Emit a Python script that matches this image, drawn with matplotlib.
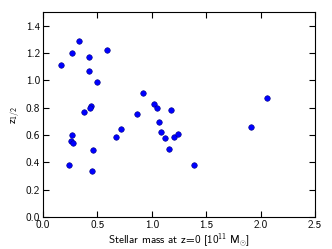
import matplotlib
matplotlib.use("Agg")
import matplotlib.pyplot as plt

# masa estelar a z=0 [1e11 Msun] y z_1/2
masa = [0.17, 0.27, 0.33, 0.42, 0.42, 0.50, 0.59, 0.38, 0.44, 0.43,
        0.27, 0.26, 0.28, 0.24, 0.46, 0.45, 0.67, 0.72,
        0.86, 0.92, 1.02, 1.05, 1.07, 1.18, 1.08, 1.12, 1.20, 1.24, 1.16, 1.39,
        1.91, 2.06]
z_mitad = [1.11, 1.20, 1.29, 1.17, 1.07, 0.99, 1.22, 0.77, 0.81, 0.795,
           0.60, 0.555, 0.54, 0.38, 0.49, 0.34, 0.585, 0.645,
           0.755, 0.905, 0.825, 0.795, 0.695, 0.78, 0.62, 0.575, 0.585, 0.61, 0.50, 0.38,
           0.66, 0.87]

xticks = [0.0, 0.5, 1.0, 1.5, 2.0, 2.5]
yticks = [0.0, 0.2, 0.4, 0.6, 0.8, 1.0, 1.2, 1.4]

plt.rcParams['font.family'] = ['cmss10', 'DejaVu Sans']
plt.rcParams['mathtext.fontset'] = 'custom'
plt.rcParams['mathtext.rm'] = 'cmss10'
plt.rcParams['axes.unicode_minus'] = False

fig = plt.figure(figsize=(3.32, 2.49), dpi=100)
ax = fig.add_axes([0.1295, 0.1285, 0.8193, 0.8235])

ax.plot(masa, z_mitad, 'o', color='#0000ff', markersize=4,
        markeredgecolor='#000080', markeredgewidth=0.4)

ax.set_xlim(0, 2.5)
ax.set_ylim(0, 1.5)
ax.set_xticks(xticks)
ax.set_yticks(yticks)
ax.set_xticklabels([f"{t:.1f}" for t in xticks])
ax.set_yticklabels([f"{t:.1f}" for t in yticks])
ax.tick_params(direction='in', top=True, right=True, length=4, width=0.8,
               labelsize=8, pad=2)
for s in ax.spines.values():
    s.set_linewidth(0.8)

ax.set_xlabel(r"Stellar mass at z=0 [$10^{11}$ M$_{\odot}$]", fontsize=8, labelpad=1)
ax.set_ylabel(r"z$_{1/2}$", fontsize=8, labelpad=3)

fig.savefig("out.png", dpi=100)
